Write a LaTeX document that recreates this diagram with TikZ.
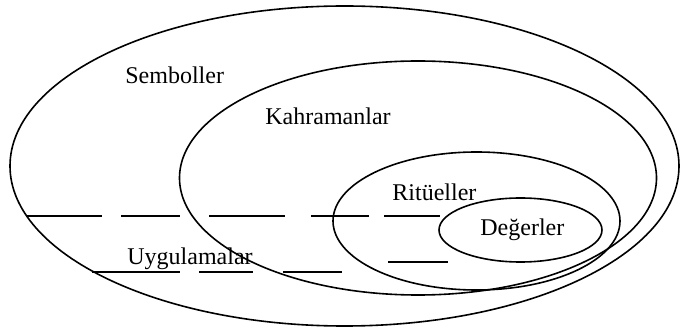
\documentclass[tikz,border=0pt]{standalone}
\usepackage{fontspec}
\setmainfont{Liberation Serif}
\usetikzlibrary{shapes.geometric}
\begin{document}
\begin{tikzpicture}[x=0.5pt, y=-0.5pt,
  ring/.style={draw, ellipse, line width=0.8pt, inner sep=0pt},
  lbl/.style={anchor=base west, inner sep=0pt, font=\fontsize{12pt}{14pt}\selectfont},
  rule/.style={line width=0.8pt}]
  \useasboundingbox (0,0) rectangle (680,331);
  % nested layers
  \node[ring, minimum width=334.5pt, minimum height=160pt] (semb) at (344.5,166) {};
  \node[ring, minimum width=238.5pt, minimum height=117pt] (kahr) at (418,178) {};
  \node[ring, minimum width=143.5pt, minimum height=69pt] (ritu) at (476.5,221) {};
  \node[ring, minimum width=81.5pt, minimum height=32pt] (deger) at (520.5,230) {};
  % labels
  \node[lbl] (tsemb) at (125,84) {Semboller};
  \node[lbl] (tkahr) at (265,125) {Kahramanlar};
  \node[lbl] (tritu) at (392,201) {Ritüeller};
  \node[lbl] (tdeger) at (480,236) {Değerler};
  \node[lbl] (tuyg) at (127,265) {Uygulamalar};
  % practices boundary, upper broken line
  \draw[rule] (26,216) -- (102,216);
  \draw[rule] (121,216) -- (180,216);
  \draw[rule] (209,216) -- (285,216);
  \draw[rule] (311,216) -- (369,216);
  \draw[rule] (384,216) -- (440,216);
  % lower broken line
  \draw[rule] (92,272) -- (180,272);
  \draw[rule] (199,272) -- (253,272);
  \draw[rule] (283,272) -- (342,272);
  \draw[rule] (388,262) -- (448,262);
\end{tikzpicture}
\end{document}
